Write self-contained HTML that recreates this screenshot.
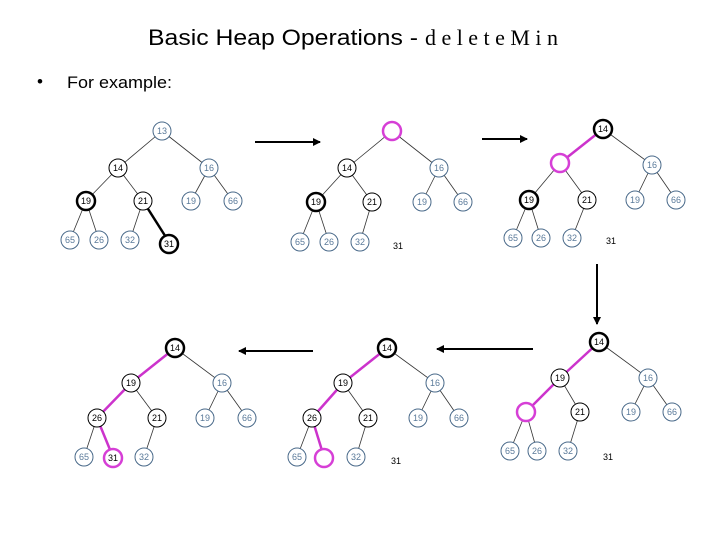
<!DOCTYPE html>
<html><head><meta charset="utf-8"><style>
body{margin:0;background:#fff;width:720px;height:540px;overflow:hidden}
svg{display:block}
.t{font-family:"Liberation Sans",sans-serif}
.g circle{fill:#fff;stroke:#4a6a8a;stroke-width:1}
.g text{fill:#5a7a9a;font-size:9px;text-anchor:middle;font-family:"Liberation Sans",sans-serif}
.k circle{fill:#fff;stroke:#000;stroke-width:1}
.k text{fill:#000;font-size:9px;text-anchor:middle;font-family:"Liberation Sans",sans-serif}
.kb circle{fill:#fff;stroke:#000;stroke-width:2.5}
.m circle{fill:#fff;stroke:#d63fd6;stroke-width:2.5}
.l line{stroke:#333;stroke-width:0.8}
.p{stroke:#cc33cc;stroke-width:2.5}
.b{stroke:#000;stroke-width:2.5}
.f{font-size:9px;font-family:"Liberation Sans",sans-serif;fill:#000}
circle{r:9px}
</style></head><body>
<svg width="720" height="540" viewBox="0 0 720 540">
<defs><marker id="a" markerWidth="8" markerHeight="8" refX="7" refY="4" orient="auto" markerUnits="userSpaceOnUse"><path d="M0,0 L8,4 L0,8z" fill="#000"/></marker></defs>
<text class="t" x="148" y="45" font-size="22" fill="#000" textLength="270" lengthAdjust="spacingAndGlyphs">Basic Heap Operations -</text>
<text x="425" y="45" font-size="22" fill="#000" font-family="Liberation Serif" textLength="133" lengthAdjust="spacing">deleteMin</text>
<text class="t" x="37" y="87" font-size="17">•</text>
<text class="t" x="67" y="88" font-size="17" textLength="105" lengthAdjust="spacingAndGlyphs">For example:</text>

<g stroke="#000" stroke-width="2">
<line x1="255" y1="142" x2="320" y2="142" marker-end="url(#a)"/>
<line x1="482" y1="139" x2="527" y2="139" marker-end="url(#a)"/>
<line x1="597" y1="264" x2="597" y2="324" marker-end="url(#a)"/>
<line x1="533" y1="349" x2="437" y2="349" marker-end="url(#a)"/>
<line x1="313" y1="351" x2="239" y2="351" marker-end="url(#a)"/>
</g>

<!-- Tree 1 -->
<g class="l">
<line x1="162" y1="131" x2="118" y2="168"/><line x1="162" y1="131" x2="209" y2="168"/>
<line x1="118" y1="168" x2="86" y2="201"/><line x1="118" y1="168" x2="143" y2="201"/>
<line x1="209" y1="168" x2="191" y2="201"/><line x1="209" y1="168" x2="233" y2="201"/>
<line x1="86" y1="201" x2="70" y2="240"/><line x1="86" y1="201" x2="99" y2="240"/>
<line x1="143" y1="201" x2="130" y2="240"/></g>
<line class="b" x1="143" y1="201" x2="169" y2="242"/>
<g class="g"><circle cx="162" cy="131" r="9"/><text x="162" y="134">13</text>
<circle cx="209" cy="168" r="9"/><text x="209" y="171">16</text>
<circle cx="191" cy="201" r="9"/><text x="191" y="204">19</text>
<circle cx="233" cy="201" r="9"/><text x="233" y="204">66</text>
<circle cx="70" cy="240" r="9"/><text x="70" y="243">65</text>
<circle cx="99" cy="240" r="9"/><text x="99" y="243">26</text>
<circle cx="130" cy="240" r="9"/><text x="130" y="243">32</text></g>
<g class="k"><circle cx="118" cy="168" r="9"/><text x="118" y="171">14</text>
<circle cx="143" cy="201" r="9"/><text x="143" y="204">21</text></g>
<g class="k kb"><circle cx="86" cy="201" r="9"/><text x="86" y="204">19</text>
<circle cx="169" cy="244" r="9"/><text x="169" y="247">31</text></g>

<!-- Tree 2 -->
<g class="l">
<line x1="392" y1="131" x2="347" y2="168"/><line x1="392" y1="131" x2="439" y2="168"/>
<line x1="347" y1="168" x2="316" y2="202"/><line x1="347" y1="168" x2="372" y2="202"/>
<line x1="439" y1="168" x2="422" y2="202"/><line x1="439" y1="168" x2="463" y2="202"/>
<line x1="316" y1="202" x2="300" y2="242"/><line x1="316" y1="202" x2="329" y2="242"/>
<line x1="372" y1="202" x2="360" y2="242"/></g>
<g class="g"><circle cx="439" cy="168" r="9"/><text x="439" y="171">16</text>
<circle cx="422" cy="202" r="9"/><text x="422" y="205">19</text>
<circle cx="463" cy="202" r="9"/><text x="463" y="205">66</text>
<circle cx="300" cy="242" r="9"/><text x="300" y="245">65</text>
<circle cx="329" cy="242" r="9"/><text x="329" y="245">26</text>
<circle cx="360" cy="242" r="9"/><text x="360" y="245">32</text></g>
<g class="k"><circle cx="347" cy="168" r="9"/><text x="347" y="171">14</text>
<circle cx="372" cy="202" r="9"/><text x="372" y="205">21</text></g>
<g class="k kb"><circle cx="316" cy="202" r="9"/><text x="316" y="205">19</text></g>
<g class="m"><circle cx="392" cy="131" r="9"/></g>
<text class="f" x="393" y="249">31</text>

<!-- Tree 3 -->
<g class="l">
<line x1="603" y1="129" x2="652" y2="165"/>
<line x1="560" y1="163" x2="529" y2="200"/><line x1="560" y1="163" x2="587" y2="200"/>
<line x1="652" y1="165" x2="635" y2="200"/><line x1="652" y1="165" x2="676" y2="200"/>
<line x1="529" y1="200" x2="513" y2="238"/><line x1="529" y1="200" x2="541" y2="238"/>
<line x1="587" y1="200" x2="572" y2="238"/></g>
<line class="p" x1="603" y1="129" x2="560" y2="163"/>
<g class="g"><circle cx="652" cy="165" r="9"/><text x="652" y="168">16</text>
<circle cx="635" cy="200" r="9"/><text x="635" y="203">19</text>
<circle cx="676" cy="200" r="9"/><text x="676" y="203">66</text>
<circle cx="513" cy="238" r="9"/><text x="513" y="241">65</text>
<circle cx="541" cy="238" r="9"/><text x="541" y="241">26</text>
<circle cx="572" cy="238" r="9"/><text x="572" y="241">32</text></g>
<g class="k"><circle cx="587" cy="200" r="9"/><text x="587" y="203">21</text></g>
<g class="k kb"><circle cx="529" cy="200" r="9"/><text x="529" y="203">19</text>
<circle cx="603" cy="129" r="9"/><text x="603" y="132">14</text></g>
<g class="m"><circle cx="560" cy="163" r="9"/></g>
<text class="f" x="606" y="244">31</text>

<!-- Tree 4 -->
<g class="l">
<line x1="599" y1="342" x2="648" y2="378"/>
<line x1="560" y1="378" x2="580" y2="412"/>
<line x1="648" y1="378" x2="631" y2="412"/><line x1="648" y1="378" x2="672" y2="412"/>
<line x1="526" y1="412" x2="510" y2="451"/><line x1="526" y1="412" x2="537" y2="451"/>
<line x1="580" y1="412" x2="568" y2="451"/></g>
<line class="p" x1="599" y1="342" x2="560" y2="378"/><line class="p" x1="560" y1="378" x2="526" y2="412"/>
<g class="g"><circle cx="648" cy="378" r="9"/><text x="648" y="381">16</text>
<circle cx="631" cy="412" r="9"/><text x="631" y="415">19</text>
<circle cx="672" cy="412" r="9"/><text x="672" y="415">66</text>
<circle cx="510" cy="451" r="9"/><text x="510" y="454">65</text>
<circle cx="537" cy="451" r="9"/><text x="537" y="454">26</text>
<circle cx="568" cy="451" r="9"/><text x="568" y="454">32</text></g>
<g class="k"><circle cx="560" cy="378" r="9"/><text x="560" y="381">19</text>
<circle cx="580" cy="412" r="9"/><text x="580" y="415">21</text></g>
<g class="k kb"><circle cx="599" cy="342" r="9"/><text x="599" y="345">14</text></g>
<g class="m"><circle cx="526" cy="412" r="9"/></g>
<text class="f" x="603" y="460">31</text>

<!-- Tree 5 -->
<g class="l">
<line x1="387" y1="348" x2="435" y2="383"/>
<line x1="343" y1="383" x2="368" y2="418"/>
<line x1="435" y1="383" x2="418" y2="418"/><line x1="435" y1="383" x2="459" y2="418"/>
<line x1="312" y1="418" x2="297" y2="457"/>
<line x1="368" y1="418" x2="356" y2="457"/></g>
<line class="p" x1="387" y1="348" x2="343" y2="383"/><line class="p" x1="343" y1="383" x2="312" y2="418"/><line class="p" x1="312" y1="418" x2="324" y2="457"/>
<g class="g"><circle cx="435" cy="383" r="9"/><text x="435" y="386">16</text>
<circle cx="418" cy="418" r="9"/><text x="418" y="421">19</text>
<circle cx="459" cy="418" r="9"/><text x="459" y="421">66</text>
<circle cx="297" cy="457" r="9"/><text x="297" y="460">65</text>
<circle cx="356" cy="457" r="9"/><text x="356" y="460">32</text></g>
<g class="k"><circle cx="343" cy="383" r="9"/><text x="343" y="386">19</text>
<circle cx="312" cy="418" r="9"/><text x="312" y="421">26</text>
<circle cx="368" cy="418" r="9"/><text x="368" y="421">21</text></g>
<g class="k kb"><circle cx="387" cy="348" r="9"/><text x="387" y="351">14</text></g>
<g class="m"><circle cx="324" cy="458" r="9"/></g>
<text class="f" x="391" y="464">31</text>

<!-- Tree 6 -->
<g class="l">
<line x1="175" y1="348" x2="222" y2="383"/>
<line x1="131" y1="383" x2="157" y2="418"/>
<line x1="222" y1="383" x2="205" y2="418"/><line x1="222" y1="383" x2="247" y2="418"/>
<line x1="97" y1="418" x2="84" y2="457"/>
<line x1="157" y1="418" x2="144" y2="457"/></g>
<line class="p" x1="175" y1="348" x2="131" y2="383"/><line class="p" x1="131" y1="383" x2="97" y2="418"/><line class="p" x1="97" y1="418" x2="113" y2="457"/>
<g class="g"><circle cx="222" cy="383" r="9"/><text x="222" y="386">16</text>
<circle cx="205" cy="418" r="9"/><text x="205" y="421">19</text>
<circle cx="247" cy="418" r="9"/><text x="247" y="421">66</text>
<circle cx="84" cy="457" r="9"/><text x="84" y="460">65</text>
<circle cx="144" cy="457" r="9"/><text x="144" y="460">32</text></g>
<g class="k"><circle cx="131" cy="383" r="9"/><text x="131" y="386">19</text>
<circle cx="97" cy="418" r="9"/><text x="97" y="421">26</text>
<circle cx="157" cy="418" r="9"/><text x="157" y="421">21</text></g>
<g class="k kb"><circle cx="175" cy="348" r="9"/><text x="175" y="351">14</text></g>
<g class="m k"><circle cx="113" cy="458" r="9"/><text x="113" y="461">31</text></g>
</svg>
</body></html>
